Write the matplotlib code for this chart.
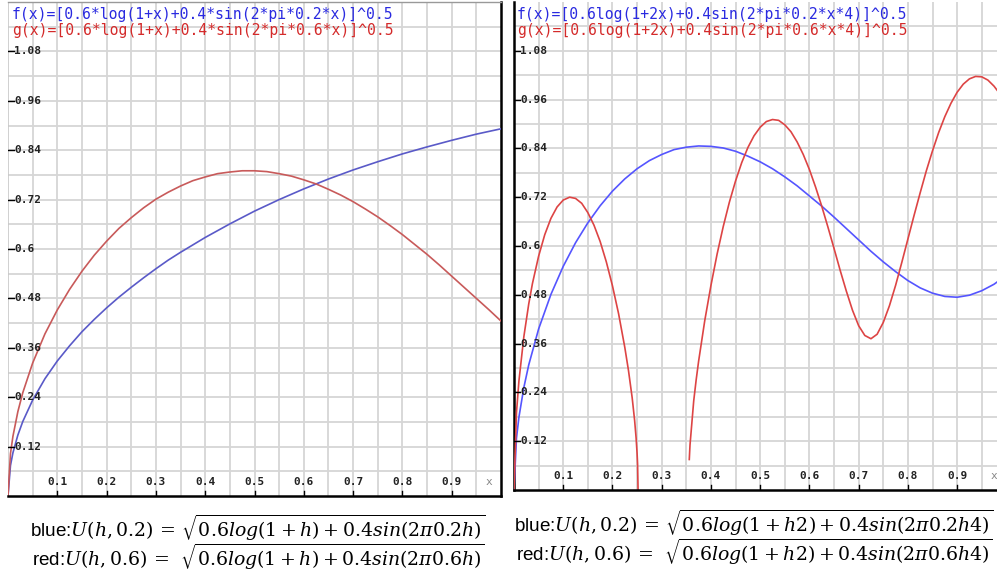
import matplotlib
matplotlib.use("Agg")
import matplotlib.pyplot as plt
import numpy as np

plt.rcParams['mathtext.fontset'] = 'dejavuserif'

# ---- left panel: U(h,0.2) and U(h,0.6)
x_left_blue = [0, 0.005, 0.01, 0.02, 0.03, 0.05, 0.075, 0.1, 0.125, 0.15, 0.175, 0.2,
               0.225, 0.25, 0.275, 0.3, 0.325, 0.35, 0.4, 0.45, 0.5, 0.55, 0.6, 0.65,
               0.7, 0.75, 0.8, 0.85, 0.9, 0.95, 1.0]
blue_left = [0, 0.074, 0.105, 0.148, 0.181, 0.233, 0.285, 0.328, 0.365, 0.399, 0.429,
             0.457, 0.483, 0.507, 0.530, 0.552, 0.573, 0.592, 0.628, 0.661, 0.692,
             0.720, 0.746, 0.770, 0.792, 0.812, 0.831, 0.848, 0.864, 0.879, 0.892]

x_left_red = [0, 0.005, 0.01, 0.02, 0.03, 0.05, 0.075, 0.1, 0.125, 0.15, 0.175, 0.2,
              0.225, 0.25, 0.275, 0.3, 0.325, 0.35, 0.375, 0.4, 0.425, 0.45, 0.475,
              0.5, 0.525, 0.55, 0.575, 0.6, 0.625, 0.65, 0.675, 0.7, 0.725, 0.75,
              0.775, 0.8, 0.825, 0.85, 0.875, 0.9, 0.925, 0.95, 0.975, 1.0]
red_left = [0, 0.103, 0.145, 0.205, 0.251, 0.323, 0.394, 0.452, 0.502, 0.546, 0.585,
            0.619, 0.650, 0.676, 0.700, 0.721, 0.738, 0.753, 0.766, 0.775, 0.783,
            0.787, 0.790, 0.790, 0.788, 0.783, 0.777, 0.768, 0.758, 0.745, 0.731,
            0.715, 0.697, 0.678, 0.657, 0.635, 0.611, 0.587, 0.561, 0.534, 0.507,
            0.480, 0.453, 0.425]

# ---- right panel: the h*2 / h*4 variant
x_right_blue = [0, 0.005, 0.01, 0.02, 0.03, 0.05, 0.075, 0.1, 0.125, 0.15, 0.175, 0.2,
                0.225, 0.25, 0.275, 0.3, 0.325, 0.35, 0.375, 0.4, 0.425, 0.45, 0.475,
                0.5, 0.525, 0.55, 0.575, 0.6, 0.625, 0.65, 0.675, 0.7, 0.725, 0.75,
                0.775, 0.8, 0.825, 0.85, 0.875, 0.9, 0.925, 0.95, 0.975, 1.0]
blue_right = [0, 0.127, 0.179, 0.252, 0.308, 0.396, 0.481, 0.550, 0.608, 0.657, 0.699,
              0.735, 0.765, 0.790, 0.810, 0.825, 0.837, 0.843, 0.846, 0.845, 0.841,
              0.833, 0.821, 0.807, 0.790, 0.770, 0.748, 0.723, 0.698, 0.671, 0.643,
              0.615, 0.587, 0.561, 0.537, 0.515, 0.497, 0.484, 0.476, 0.474, 0.479,
              0.490, 0.506, 0.528]

# red is undefined between ~0.252 and ~0.356 -> two pieces
x_red_a = [0, 0.005, 0.01, 0.02, 0.03, 0.0375, 0.05, 0.0625, 0.075, 0.0875, 0.1, 0.113,
           0.125, 0.1375, 0.15, 0.1625, 0.175, 0.1875, 0.2, 0.2125, 0.225, 0.2325,
           0.24, 0.245, 0.248, 0.25, 0.251, 0.252]
red_a = [0, 0.190, 0.268, 0.377, 0.458, 0.508, 0.575, 0.628, 0.668, 0.696, 0.713,
         0.720, 0.717, 0.705, 0.682, 0.651, 0.611, 0.561, 0.502, 0.433, 0.351, 0.294,
         0.227, 0.171, 0.128, 0.090, 0.064, 0.0]
x_red_b = [0.356, 0.3575, 0.365, 0.37, 0.375, 0.3875, 0.4, 0.4125, 0.425, 0.4375, 0.45,
           0.4625, 0.475, 0.4875, 0.5, 0.5125, 0.525, 0.5375, 0.55, 0.5625, 0.575,
           0.5875, 0.6, 0.6125, 0.625, 0.6375, 0.65, 0.6625, 0.675, 0.6875, 0.7,
           0.7125, 0.725, 0.7375, 0.75, 0.7625, 0.775, 0.7875, 0.8, 0.8125, 0.825,
           0.8375, 0.85, 0.8625, 0.875, 0.8875, 0.9, 0.9125, 0.925, 0.9375, 0.95,
           0.9625, 0.975, 0.9875, 1.0]
red_b = [0.075, 0.111, 0.219, 0.271, 0.317, 0.417, 0.503, 0.580, 0.648, 0.708, 0.760,
         0.805, 0.842, 0.871, 0.892, 0.906, 0.911, 0.909, 0.898, 0.881, 0.856, 0.825,
         0.788, 0.745, 0.698, 0.647, 0.594, 0.540, 0.489, 0.442, 0.404, 0.380, 0.372,
         0.383, 0.412, 0.453, 0.503, 0.559, 0.617, 0.675, 0.731, 0.785, 0.834, 0.879,
         0.918, 0.951, 0.978, 0.998, 1.011, 1.017, 1.016, 1.008, 0.993, 0.973, 0.946]

x_ticks = [0.1, 0.2, 0.3, 0.4, 0.5, 0.6, 0.7, 0.8, 0.9]
y_ticks = [0.12, 0.24, 0.36, 0.48, 0.6, 0.72, 0.84, 0.96, 1.08]
y_tick_labels = ["0.12", "0.24", "0.36", "0.48", "0.6", "0.72", "0.84", "0.96", "1.08"]

fig = plt.figure(figsize=(9.97, 5.73), dpi=100)
W, H = 997, 573


def panel(left, top, right, bottom, xmax):
    ax = fig.add_axes([left / W, 1 - bottom / H, (right - left) / W, (bottom - top) / H])
    ax.set_xlim(0, xmax)
    ax.set_ylim(0, 1.2)
    for gx in np.arange(0.05, 1.0, 0.05):
        ax.axvline(gx, color='#d6d6d6', lw=1.3, zorder=0)
    for gy in np.arange(0.06, 1.2, 0.06):
        ax.axhline(gy, color='#d6d6d6', lw=1.3, zorder=0)
    ax.set_xticks([])
    ax.set_yticks([])
    for s in ax.spines.values():
        s.set_visible(False)
    ax.plot([0, 0], [0, 1.2], color='#c8c8c8', lw=1.2, zorder=1)
    ax.plot([0, xmax], [0, 0], color='black', lw=1.8, zorder=3, clip_on=False)
    # tick labels drawn inside, like the online plotter
    for t in x_ticks:
        ax.plot([t, t], [0, 0.012], color='black', lw=1, zorder=3)
        ax.text(t, 0.022, f"{t:.1f}", ha='center', va='bottom', fontsize=8,
                family='DejaVu Sans Mono', fontweight='bold', color='#222222')
    for t, lab in zip(y_ticks, y_tick_labels):
        ax.plot([0, 0.012], [t, t], color='black', lw=1, zorder=3)
        ax.text(0.012, t, lab, ha='left', va='center', fontsize=8,
                family='DejaVu Sans Mono', fontweight='bold', color='#222222')
    ax.text(0.975, 0.022, "x", ha='center', va='bottom', fontsize=8,
            family='DejaVu Sans Mono', color='#888888')
    return ax


ax1 = panel(8, 2, 501, 496, 1.0)
ax1.plot([1, 1], [0, 1.2], color='black', lw=1.8, clip_on=False)
ax1.plot([0, 1], [1.2, 1.2], color='#999999', lw=1, clip_on=False)
ax1.plot(x_left_blue, blue_left, color='#5a5ac8', lw=1.2, zorder=2)
ax1.plot(x_left_red, red_left, color='#c85a5a', lw=1.2, zorder=2)

ax2 = panel(514, 2, 997, 490, 0.981)
ax2.plot([0, 0], [0, 1.2], color='black', lw=1.8, clip_on=False)
ax2.plot(x_right_blue, blue_right, color='#5555ff', lw=1.2, zorder=2)
ax2.plot(x_red_a, red_a, color='#dd4444', lw=1.2, zorder=2)
ax2.plot(x_red_b, red_b, color='#dd4444', lw=1.2, zorder=2)

mono = dict(family='DejaVu Sans Mono', fontsize=10.6)
fig.text(12 / W, 1 - 15 / H, "f(x)=[0.6*log(1+x)+0.4*sin(2*pi*0.2*x)]^0.5",
         color='#2a2ae0', va='center', **mono)
fig.text(12 / W, 1 - 30 / H, "g(x)=[0.6*log(1+x)+0.4*sin(2*pi*0.6*x)]^0.5",
         color='#d42a2a', va='center', **mono)
fig.text(517 / W, 1 - 15 / H, "f(x)=[0.6log(1+2x)+0.4sin(2*pi*0.2*x*4)]^0.5",
         color='#2a2ae0', va='center', **mono)
fig.text(517 / W, 1 - 30 / H, "g(x)=[0.6log(1+2x)+0.4sin(2*pi*0.6*x*4)]^0.5",
         color='#d42a2a', va='center', **mono)

cap = dict(fontsize=13.6, ha='right', va='center', family='Liberation Sans')
fig.text(485 / W, 1 - 528 / H,
         r"blue:$U(h,0.2)\,=\,\sqrt{0.6log(1+h)+0.4sin(2\pi0.2h)}$", **cap)
fig.text(485 / W, 1 - 557 / H,
         r"red:$U(h,0.6)\,=\;\,\sqrt{0.6log(1+h)+0.4sin(2\pi0.6h)}$", **cap)
fig.text(993 / W, 1 - 523 / H,
         r"blue:$U(h,0.2)\,=\,\sqrt{0.6log(1+h2)+0.4sin(2\pi0.2h4)}$", **cap)
fig.text(993 / W, 1 - 552 / H,
         r"red:$U(h,0.6)\,=\;\,\sqrt{0.6log(1+h2)+0.4sin(2\pi0.6h4)}$", **cap)

fig.savefig("out.png", dpi=100)
